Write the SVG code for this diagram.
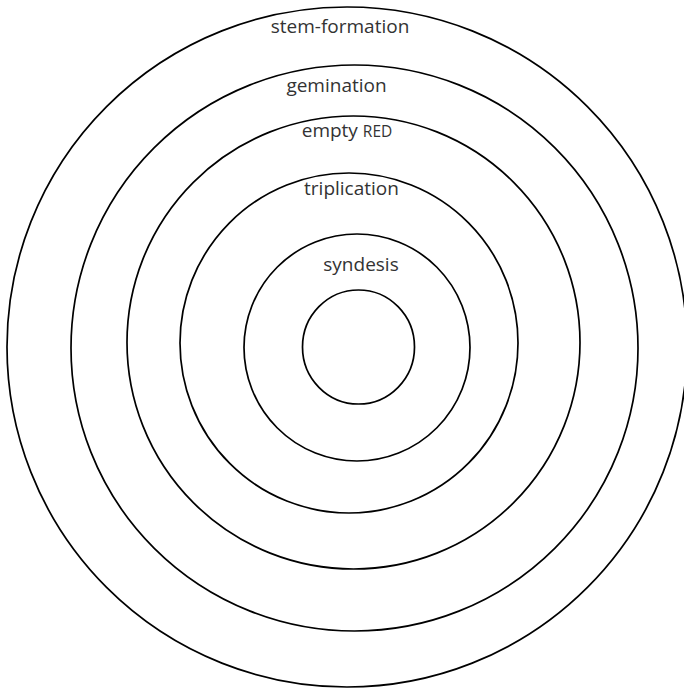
<svg xmlns="http://www.w3.org/2000/svg" width="684" height="688" viewBox="0 0 684 688">
<style>
.ring{fill:none;stroke:#000;stroke-width:1.7}
.lbl{font-family:"Open Sans","Noto Sans",sans-serif;font-size:19px;fill:#333;text-anchor:middle}
.sc{font-size:15.5px}
</style>
<rect width="684" height="688" fill="#fff"/>
<g id="stem-formation">
<ellipse class="ring" cx="347" cy="347" rx="340" ry="340"/>
<text class="lbl" x="340" y="33">stem-formation</text>
</g>
<g id="gemination">
<ellipse class="ring" cx="354.5" cy="348" rx="283.5" ry="283"/>
<text class="lbl" x="336.5" y="92">gemination</text>
</g>
<g id="empty-red">
<ellipse class="ring" cx="353.5" cy="342.5" rx="226.5" ry="226.5"/>
<text class="lbl" x="347" y="137">empty <tspan class="sc">RED</tspan></text>
</g>
<g id="triplication">
<ellipse class="ring" cx="349" cy="343" rx="169" ry="170"/>
<text class="lbl" x="351.5" y="195">triplication</text>
</g>
<g id="syndesis">
<ellipse class="ring" cx="357" cy="347.5" rx="113" ry="113.5"/>
<text class="lbl" x="361" y="271">syndesis</text>
</g>
<g id="core">
<ellipse class="ring" cx="358.5" cy="347" rx="56" ry="57"/>
</g>
<g id="connectors"/>
</svg>
